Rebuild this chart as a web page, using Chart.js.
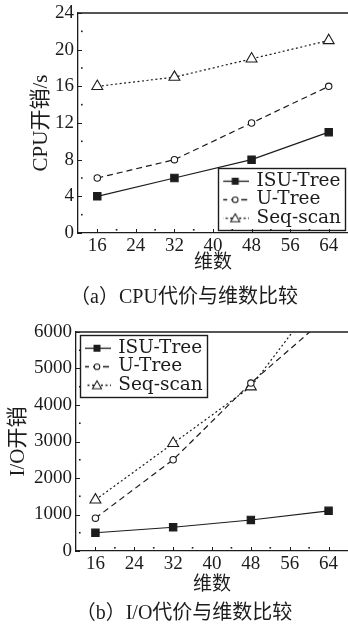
<!DOCTYPE html>
<html><head><meta charset="utf-8">
<script src="https://cdn.jsdelivr.net/npm/chart.js@4/dist/chart.umd.min.js"></script>
<style>
html,body{margin:0;padding:0;background:#fff;}
#ca{position:absolute;left:0;top:0;}
#cb{position:absolute;left:0;top:310px;}
</style></head><body>
<canvas id="ca" width="348" height="310"></canvas>
<canvas id="cb" width="348" height="316"></canvas>
<script>
// ---- data ----
const dims = [16, 32, 48, 64];
const xTickLabels = [16, 24, 32, 40, 48, 56, 64];
const seriesNames = ['ISU-Tree', 'U-Tree', 'Seq-scan'];
const cpuISU = [4, 6, 8, 11];
const cpuUTree = [6, 8, 12, 16];
const cpuSeq = [16, 17, 19, 21];
const cpuTickLabels = [0, 4, 8, 12, 16, 20, 24];
const ioISU = [500, 650, 850, 1100];
const ioUTree = [900, 2500, 4600, 6450];
const ioSeq = [1400, 2950, 4500, 7300];
const ioTickLabels = [0, 1000, 2000, 3000, 4000, 5000, 6000];

// ---- styles ----
const INK = '#1c1c1c';
const SERIF = "'Liberation Serif', 'Noto Sans CJK SC', serif";
const LEGEND_FONT = "'DejaVu Serif', 'Liberation Serif', serif";
const styles = [
  {dash: [], point: 'rect', radius: 5.2, fill: INK},
  {dash: [6, 4], point: 'circle', radius: 3.2, fill: '#fff'},
  {dash: [2, 2.5], point: 'triangle', radius: 6.3, fill: '#fff'}
];

function makeIcon(st) {
  const c = document.createElement('canvas');
  c.width = 28; c.height = 12;
  const g = c.getContext('2d');
  g.strokeStyle = INK; g.lineWidth = 1.3; g.setLineDash(st.dash);
  g.beginPath(); g.moveTo(0, 6.5); g.lineTo(28, 6.5); g.stroke();
  g.setLineDash([]); g.lineWidth = 1.1; g.fillStyle = st.fill;
  g.beginPath();
  if (st.point === 'rect') { g.rect(10.5, 3, 7, 7); g.fill(); }
  else if (st.point === 'circle') { g.arc(14, 6.5, 2.8, 0, Math.PI * 2); g.fill(); g.stroke(); }
  else { g.moveTo(14, 2); g.lineTo(18.5, 10); g.lineTo(9.5, 10); g.closePath(); g.fill(); g.stroke(); }
  return c;
}
const icons = styles.map(makeIcon);

function makeDatasets(arrs) {
  return arrs.map((arr, i) => ({
    label: seriesNames[i],
    data: dims.map((d, j) => ({x: d, y: arr[j]})),
    borderColor: INK,
    borderWidth: 1.2,
    borderDash: styles[i].dash,
    pointStyle: styles[i].point,
    pointRadius: styles[i].radius,
    pointBackgroundColor: styles[i].fill,
    pointBorderColor: INK,
    pointBorderWidth: 1.1,
    tension: 0,
    fill: false
  }));
}

function framePlugin(corner) {
  return {
    id: 'frame_' + corner,
    afterLayout(chart) {
      const lg = chart.legend, ca = chart.chartArea;
      const pad = lg.options.labels.padding;
      const cs = lg.columnSizes[0];
      if (corner === 'br') {
        lg.left = ca.right - 7 - cs.width - pad;
        lg.top = ca.bottom - 6 - cs.height - pad;
      } else {
        lg.left = ca.left + 9 - pad;
        lg.top = ca.top + 6.5 - pad;
      }
      lg.right = lg.left + cs.width + 30;
      lg.bottom = lg.top + cs.height + 30;
    },
    afterDraw(chart) {
      const {ctx, chartArea: ca, scales} = chart;
      ctx.save();
      ctx.strokeStyle = INK; ctx.fillStyle = INK; ctx.lineWidth = 1.3;
      ctx.beginPath(); ctx.moveTo(ca.left, ca.top); ctx.lineTo(ca.right, ca.top); ctx.stroke();
      ctx.lineWidth = 1;
      const xs = scales.x, ys = scales.y;
      const xv = xs.ticks.map(t => t.value);
      xv.forEach(v => {
        const p = Math.round(xs.getPixelForValue(v)) + 0.5;
        ctx.beginPath(); ctx.moveTo(p, ca.bottom); ctx.lineTo(p, ca.bottom - 4); ctx.stroke();
      });
      for (let i = 0; i < xv.length - 1; i++) {
        const p = xs.getPixelForValue((xv[i] + xv[i + 1]) / 2);
        ctx.fillRect(p - 0.8, ca.bottom - 4, 1.6, 1.6);
      }
      const yv = ys.ticks.map(t => t.value);
      yv.forEach(v => {
        const p = Math.round(ys.getPixelForValue(v)) + 0.5;
        ctx.beginPath(); ctx.moveTo(ca.left, p); ctx.lineTo(ca.left + 4, p); ctx.stroke();
      });
      for (let i = 0; i < yv.length - 1; i++) {
        const p = ys.getPixelForValue((yv[i] + yv[i + 1]) / 2);
        ctx.fillRect(ca.left + 3, p - 0.8, 1.6, 1.6);
      }
      const lg = chart.legend;
      const pad = lg.options.labels.padding;
      const cs = lg.columnSizes[0];
      ctx.lineWidth = 1.4;
      ctx.strokeRect(Math.round(lg.left + pad - 5) + 0.5, Math.round(lg.top + pad - 4) + 0.5,
        Math.round(cs.width + 9), Math.round(cs.height + 6));
      ctx.restore();
    }
  };
}

function makeChart(id, cfg) {
  return new Chart(document.getElementById(id), {
    type: 'line',
    data: {datasets: makeDatasets(cfg.series)},
    options: {
      responsive: false,
      devicePixelRatio: 1,
      animation: false,
      events: [],
      layout: {autoPadding: false, padding: {left: 20, top: cfg.top, right: 0, bottom: 0}},
      scales: {
        x: {
          type: 'linear', min: 12, max: 68,
          afterBuildTicks: s => { s.ticks = xTickLabels.map(v => ({value: v})); },
          afterFit: s => { s.height = cfg.xh; s.paddingLeft = 0; s.paddingRight = 0; },
          grid: {display: false, drawTicks: false},
          border: {display: true, color: INK, width: 1.3},
          ticks: {color: INK, font: {family: SERIF, size: 19}, padding: 2, maxRotation: 0, autoSkip: false,
            callback: v => String(v)},
          title: {display: true, text: '维数', color: INK, font: {family: SERIF, size: 19}, padding: {top: 0, bottom: cfg.xtpb}}
        },
        y: {
          type: 'linear', min: cfg.ymin, max: cfg.ymax,
          afterBuildTicks: s => { s.ticks = cfg.yticks.map(v => ({value: v})); },
          afterFit: s => { s.width = cfg.yw; s.paddingTop = 0; s.paddingBottom = 0; },
          grid: {display: false, drawTicks: false},
          border: {display: true, color: INK, width: 1.3},
          ticks: {color: INK, font: {family: SERIF, size: 19}, padding: 4, autoSkip: false,
            callback: v => String(v)},
          title: {display: true, text: cfg.ytitle, color: INK, font: {family: SERIF, size: 21}, padding: {top: cfg.ytpt, bottom: 0}}
        }
      },
      plugins: {
        tooltip: {enabled: false},
        legend: {
          display: true,
          position: 'chartArea',
          align: 'start',
          labels: {
            usePointStyle: true,
            pointStyleWidth: 24,
            padding: 0,
            color: INK,
            font: {family: LEGEND_FONT, size: 18.5},
            generateLabels: chart => chart.data.datasets.map((ds, i) => ({
              text: ds.label, pointStyle: icons[i], fillStyle: 'rgba(0,0,0,0)',
              strokeStyle: 'rgba(0,0,0,0)', lineWidth: 0, hidden: false,
              datasetIndex: i, fontColor: INK
            }))
          }
        },
        title: {
          display: true, position: 'bottom', text: cfg.caption, color: INK,
          font: {family: SERIF, size: 20, weight: 'normal'},
          padding: {top: cfg.cappt, bottom: 0}
        }
      }
    },
    plugins: [framePlugin(cfg.corner)]
  });
}

makeChart('ca', {
  series: [cpuISU, cpuUTree, cpuSeq],
  top: 13, xh: 45, xtpb: 3.6, yw: 58, ytpt: 8.4, cappt: 8,
  ymin: 0, ymax: 24, yticks: cpuTickLabels,
  ytitle: 'CPU开销/s', caption: '（a）CPU代价与维数比较', corner: 'br'
});
makeChart('cb', {
  series: [ioISU, ioUTree, ioSeq],
  top: 22, xh: 48, xtpb: 2.3, yw: 56, ytpt: -14.6, cappt: 3,
  ymin: 0, ymax: 6000, yticks: ioTickLabels,
  ytitle: 'I/O开销', caption: '（b）I/O代价与维数比较', corner: 'tl'
});
</script>
</body></html>
